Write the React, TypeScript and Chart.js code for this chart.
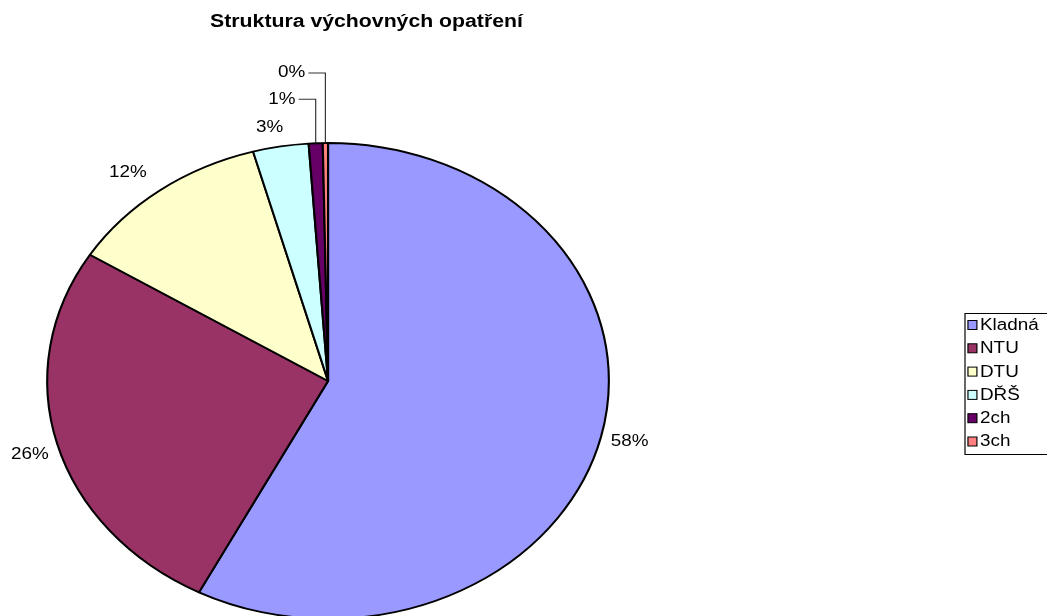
import React, { useEffect, useRef } from "react";
import { Chart, registerables } from "chart.js";

Chart.register(...registerables);

// ---- data ----
const chartTitle = "Struktura výchovných opatření";
const categories = ["Kladná", "NTU", "DTU", "DŘŠ", "2ch", "3ch"];
const values = [57.6, 26.3, 11.8, 3.2, 0.8, 0.3];

// ---- styles / layout ----
const colors = ["#9999FF", "#993366", "#FFFFCC", "#CCFFFF", "#660066", "#FF8080"];
const SX = 1.18; // horizontal stretch of the whole picture
const W = 1047;
const H = 640;
const CX = 278; // virtual (unstretched) pie centre
const CY = 381;
const R = 238;
const FONT = '"Liberation Sans", Arial, Helvetica, sans-serif';
const labelNudge: number[][] = [
  [1, 1],
  [0, 7],
  [-13, -6],
  [-6, -4],
  [0, 0],
  [0, 0],
];

const total = values.reduce((a, b) => a + b, 0);
const pctLabels = values.map((v) => `${Math.round((v / total) * 100)}%`);

const drawTexts = (chart: any) => {
  const ctx: CanvasRenderingContext2D = chart.ctx;
  // title
  ctx.fillStyle = "#000";
  ctx.font = `bold 18px ${FONT}`;
  ctx.textAlign = "center";
  ctx.textBaseline = "middle";
  ctx.fillText(chartTitle, 310.6, 22);

  // data labels
  const meta = chart.getDatasetMeta(0);
  ctx.font = `16px ${FONT}`;
  let stack = 0;
  meta.data.forEach((arc: any, i: number) => {
    const { x, y, startAngle, endAngle, outerRadius } = arc.getProps(
      ["x", "y", "startAngle", "endAngle", "outerRadius"],
      true
    );
    const mid = (startAngle + endAngle) / 2;
    const dx = Math.cos(mid);
    const dy = Math.sin(mid);
    const text = pctLabels[i];
    const w = ctx.measureText(text).width;
    const share = values[i] / total;
    if (share < 0.02) {
      stack++;
      const px = x + outerRadius * dx;
      const py = y + outerRadius * dy;
      const ly = py - 18 - stack * 26;
      ctx.save();
      ctx.strokeStyle = "#333";
      ctx.lineWidth = 1;
      ctx.beginPath();
      ctx.moveTo(px, py);
      ctx.lineTo(px, ly);
      ctx.lineTo(px - 14.4, ly);
      ctx.stroke();
      ctx.restore();
      ctx.textAlign = "right";
      ctx.textBaseline = "middle";
      ctx.fillText(text, px - 17, ly);
    } else {
      const g = 8;
      const lx = x + (outerRadius + g) * dx + (dx * w) / 2 + labelNudge[i][0];
      const ly = y + (outerRadius + g) * dy + dy * 7 + labelNudge[i][1];
      ctx.textAlign = "center";
      ctx.textBaseline = "middle";
      ctx.fillText(text, lx, ly);
    }
  });

  // legend
  const bx = 817.8;
  const by = 313;
  const bw = 72;
  const bh = 141;
  ctx.save();
  ctx.strokeStyle = "#000";
  ctx.lineWidth = 1;
  ctx.strokeRect(bx, by + 0.5, bw, bh);
  ctx.restore();
  ctx.font = `16px ${FONT}`;
  ctx.textAlign = "left";
  ctx.textBaseline = "middle";
  categories.forEach((c, i) => {
    const iy = 325 + i * 23.3;
    ctx.fillStyle = colors[i];
    ctx.fillRect(820.3, iy - 4.5, 7.6, 9);
    ctx.strokeStyle = "#000";
    ctx.lineWidth = 1;
    ctx.strokeRect(820.3, iy - 4.5, 7.6, 9);
    ctx.fillStyle = "#000";
    ctx.fillText(c, 830.5, iy + 0.5);
  });
};

const stretchPlugin = {
  id: "stretchPlugin",
  beforeDraw(chart: any) {
    chart.ctx.save();
    chart.ctx.scale(SX, 1);
  },
  afterDraw(chart: any) {
    drawTexts(chart);
    chart.ctx.restore();
  },
};

export default function App() {
  const ref = useRef<HTMLCanvasElement>(null);
  useEffect(() => {
    if (!ref.current) return;
    const chart = new Chart(ref.current, {
      type: "pie",
      data: {
        labels: categories,
        datasets: [
          {
            data: values,
            backgroundColor: colors,
            borderColor: "#000",
            borderWidth: 1.8,
            radius: R,
          } as any,
        ],
      },
      options: {
        responsive: false,
        animation: false,
        devicePixelRatio: 1,
        events: [],
        layout: {
          padding: {
            left: CX - R,
            top: CY - R,
            right: W - (CX + R),
            bottom: H - (CY + R),
          },
        },
        plugins: {
          legend: { display: false },
          tooltip: { enabled: false },
          title: { display: false },
        },
      },
      plugins: [stretchPlugin],
    });
    return () => chart.destroy();
  }, []);
  return (
    <div
      style={{
        position: "fixed",
        left: 0,
        top: 0,
        width: W,
        height: 616,
        overflow: "hidden",
        background: "#fff",
      }}
    >
      <canvas
        ref={ref}
        width={W}
        height={H}
        style={{ display: "block", width: W, height: H }}
      />
    </div>
  );
}
